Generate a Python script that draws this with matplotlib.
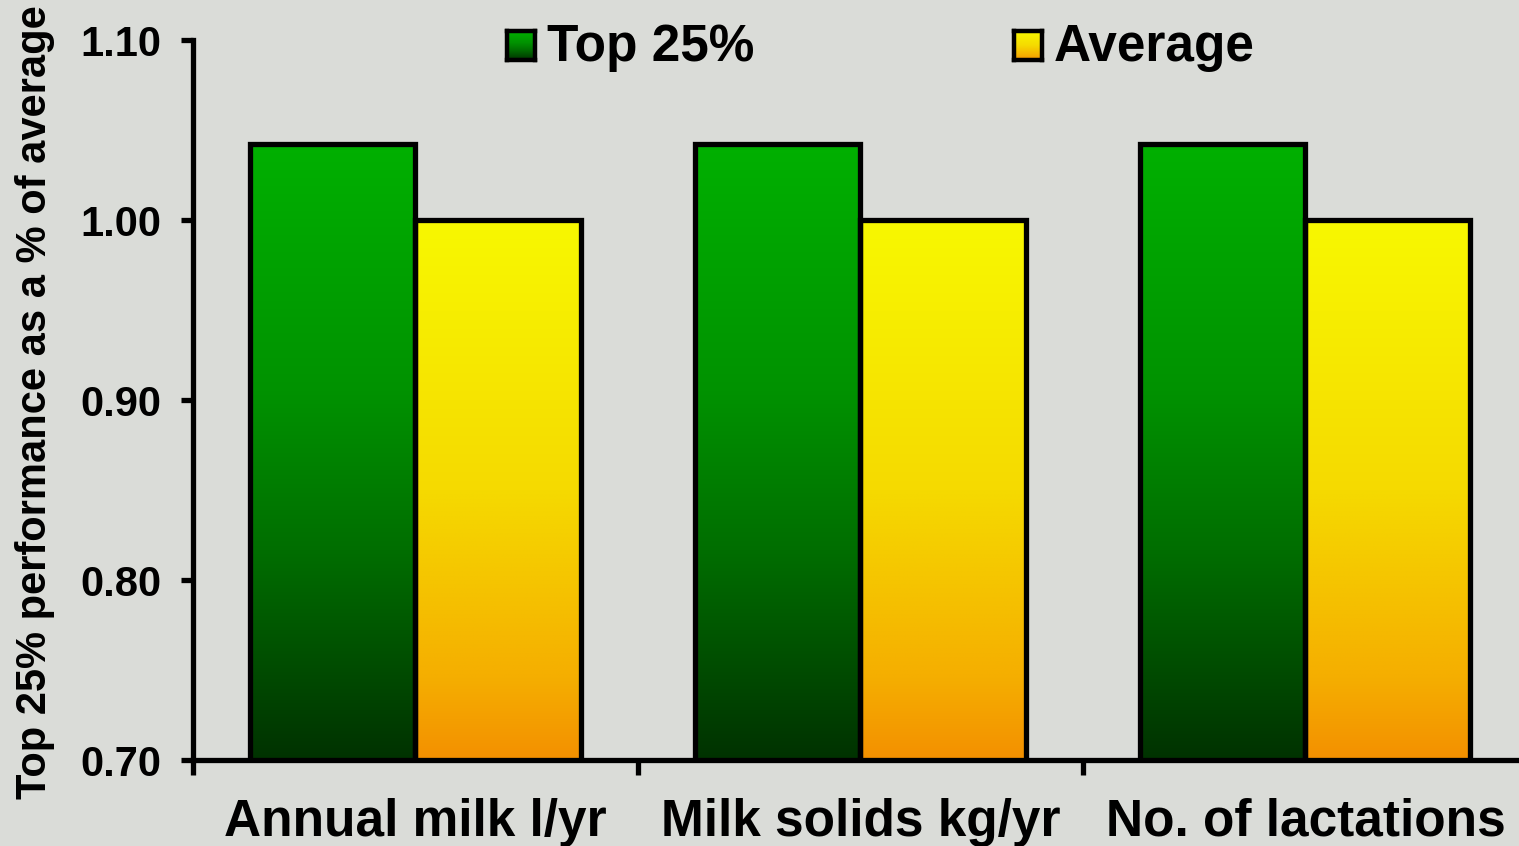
import numpy as np
import matplotlib
matplotlib.use("Agg")
import matplotlib.pyplot as plt
from matplotlib.colors import LinearSegmentedColormap

# ---- data ----
categories = ["Annual milk l/yr", "Milk solids kg/yr", "No. of lactations"]
series_names = ["Top 25%", "Average"]
top25 = [1.042, 1.042, 1.042]
average = [1.00, 1.00, 1.00]
yticks = [0.70, 0.80, 0.90, 1.00, 1.10]
ytick_labels = ["0.70", "0.80", "0.90", "1.00", "1.10"]
ylabel = "Top 25% performance as a % of average"

# ---- styles ----
green_cmap = LinearSegmentedColormap.from_list(
    "g", [(0.0, "#003200"), (0.34, "#006e00"), (0.6, "#009200"), (1.0, "#00b000")])
yellow_cmap = LinearSegmentedColormap.from_list(
    "y", [(0.0, "#f39000"), (0.15, "#f5ae00"), (0.5, "#f5da00"), (1.0, "#f8f800")])
bg = "#dadcd8"

plt.rcParams['font.family'] = ['Liberation Sans', 'DejaVu Sans']
plt.rcParams['font.weight'] = 'bold'

W, H = 1519, 846
fig = plt.figure(figsize=(W / 100, H / 100), dpi=100, facecolor=bg)
ax = fig.add_axes([193 / W, 1 - 760 / H, 1 - 193 / W, (760 - 40) / H])
ax.set_facecolor("none")

x = np.arange(len(categories))
bw = 0.371
ymin, ymax = 0.70, 1.10

bars_g = ax.bar(x - bw / 2, top25, bw, bottom=0, facecolor="none",
                edgecolor="black", linewidth=3.8, zorder=3)
bars_y = ax.bar(x + bw / 2, average, bw, bottom=0, facecolor="none",
                edgecolor="black", linewidth=3.8, zorder=3)

grad = np.linspace(0, 1, 256).reshape(-1, 1)
for bars, cmap in ((bars_g, green_cmap), (bars_y, yellow_cmap)):
    for b in bars:
        x0, w, h = b.get_x(), b.get_width(), b.get_height()
        im = ax.imshow(grad, cmap=cmap, origin="lower", aspect="auto",
                       extent=(x0, x0 + w, ymin, h), zorder=2,
                       interpolation="bilinear")
        im.set_clip_path(b)

ax.set_ylim(ymin, ymax)
ax.set_xlim(-0.5, 2.48)

for side in ("top", "right"):
    ax.spines[side].set_visible(False)
for side in ("left", "bottom"):
    ax.spines[side].set_linewidth(3.8)

ax.set_yticks(yticks)
ax.set_yticklabels(ytick_labels, fontsize=30, fontweight="bold")
ax.tick_params(axis="y", direction="out", length=9, width=3.8, pad=14)

ax.set_xticks(np.concatenate([[x[0] - 0.5], x[:-1] + 0.5]))
ax.set_xticklabels([""] * len(categories))
ax.set_xticks(x, minor=True)
ax.set_xticklabels(categories, minor=True, fontsize=37, fontweight="bold")
ax.tick_params(axis="x", which="major", direction="out", length=11, width=3.8)
ax.tick_params(axis="x", which="minor", length=0, pad=27)

fig.text(35 / W, 1 - 402 / H, ylabel, rotation=90, ha="center", va="center",
         fontsize=30, fontweight="bold")

# legend
leg_cmaps = [green_cmap, yellow_cmap]
leg_marker_x = [507, 1014]
for name, cmap, mx in zip(series_names, leg_cmaps, leg_marker_x):
    lax = fig.add_axes([mx / W, 1 - 60 / H, 28 / W, 29 / H])
    lax.imshow(grad, cmap=cmap, origin="lower", aspect="auto",
               extent=(0, 1, 0, 1))
    lax.set_xticks([])
    lax.set_yticks([])
    for s in lax.spines.values():
        s.set_linewidth(3.2)
    fig.text((mx + 40) / W, 1 - 61 / H, name, ha="left", va="baseline",
             fontsize=37, fontweight="bold")

fig.savefig("out.png", dpi=100, facecolor=bg)
